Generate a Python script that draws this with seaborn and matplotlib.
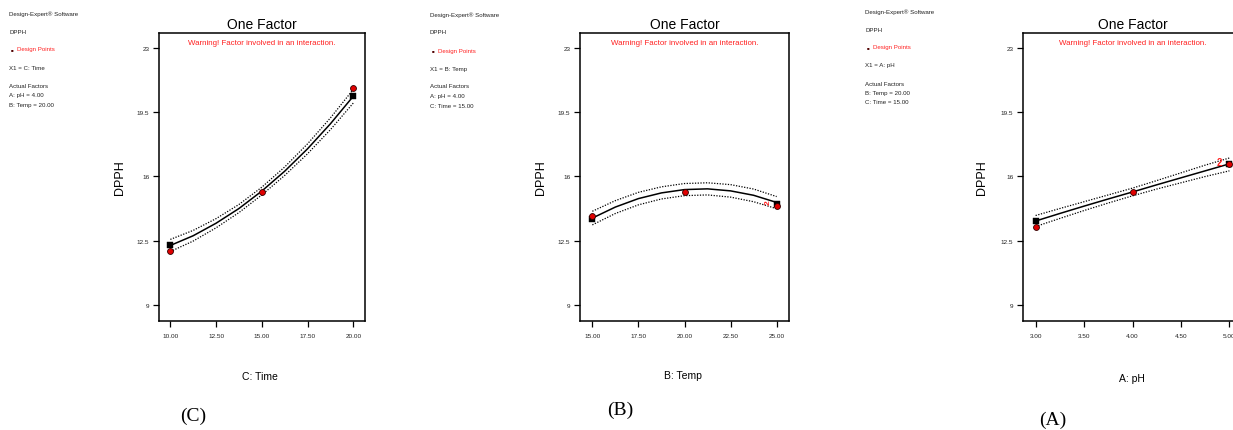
import matplotlib
matplotlib.use("Agg")
import matplotlib.pyplot as plt
import pandas as pd
import seaborn as sns

sns.set_theme(style="ticks")
plt.rcParams['font.family'] = ['Liberation Sans Narrow', 'Liberation Sans', 'DejaVu Sans']

# ---------------- data ----------------
# Panel (C): C: Time
time_x = [10.0, 11.25, 12.5, 13.75, 15.0, 16.25, 17.5, 18.75, 20.0]
time_fit = [12.24, 12.77, 13.45, 14.25, 15.20, 16.28, 17.50, 18.86, 20.36]
time_upper = [12.57, 13.06, 13.70, 14.47, 15.41, 16.51, 17.77, 19.18, 20.73]
time_lower = [11.91, 12.48, 13.20, 14.03, 14.99, 16.05, 17.23, 18.54, 19.99]
time_pts_x = [10.0, 15.0, 20.0]
time_pts_y = [11.93, 15.16, 20.80]
time_sq_x = [10.0, 20.0]
time_sq_y = [12.24, 20.36]
time_ticks = [10.0, 12.5, 15.0, 17.5, 20.0]
time_ticklabels = ["10.00", "12.50", "15.00", "17.50", "20.00"]

# Panel (B): B: Temp
temp_x = [15.0, 16.25, 17.5, 18.75, 20.0, 21.25, 22.5, 23.75, 25.0]
temp_fit = [13.73, 14.33, 14.79, 15.10, 15.28, 15.32, 15.21, 14.97, 14.58]
temp_upper = [14.10, 14.68, 15.13, 15.43, 15.61, 15.65, 15.55, 15.31, 14.90]
temp_lower = [13.36, 13.98, 14.45, 14.77, 14.95, 14.99, 14.87, 14.62, 14.24]
temp_pts_x = [15.0, 20.0, 25.0]
temp_pts_y = [13.82, 15.15, 14.41]
temp_sq_x = [15.0, 25.0]
temp_sq_y = [13.70, 14.49]
temp_ticks = [15.0, 17.5, 20.0, 22.5, 25.0]
temp_ticklabels = ["15.00", "17.50", "20.00", "22.50", "25.00"]

# Panel (A): A: pH
ph_x = [3.0, 3.25, 3.5, 3.75, 4.0, 4.25, 4.5, 4.75, 5.0]
ph_fit = [13.57, 13.98, 14.38, 14.77, 15.15, 15.54, 15.92, 16.30, 16.68]
ph_upper = [13.87, 14.25, 14.62, 14.99, 15.36, 15.77, 16.19, 16.61, 17.00]
ph_lower = [13.27, 13.71, 14.14, 14.55, 14.94, 15.31, 15.65, 15.99, 16.30]
ph_pts_x = [3.0, 4.0, 5.0]
ph_pts_y = [13.22, 15.17, 16.66]
ph_sq_x = [3.0, 5.0]
ph_sq_y = [13.57, 16.68]
ph_ticks = [3.0, 3.5, 4.0, 4.5, 5.0]
ph_ticklabels = ["3.00", "3.50", "4.00", "4.50", "5.00"]

y_ticks = [9, 12.5, 16, 19.5, 23]
y_ticklabels = ["9", "12.5", "16", "19.5", "23"]

# ---------------- figure ----------------
W, H = 1233, 431
fig = plt.figure(figsize=(W / 100, H / 100), dpi=100)
fig.patch.set_facecolor("white")


def px(x, y):
    return x / W, 1 - y / H


def panel(left, right, top, bottom, x, fit, up, lo, ptx, pty, sqx, sqy,
          xlim, ticks, ticklabels, xlabel, xl_pos, letter, letter_pos,
          ylab_x, side_x, side_y0, side_lines, two=None):
    ax = fig.add_axes([left / W, 1 - bottom / H, (right - left) / W, (bottom - top) / H])
    df = pd.DataFrame({"x": x, "fit": fit, "up": up, "lo": lo})
    sns.lineplot(data=df, x="x", y="up", ax=ax, color="black", lw=0.9, linestyle=(0, (1, 1.2)))
    sns.lineplot(data=df, x="x", y="lo", ax=ax, color="black", lw=0.9, linestyle=(0, (1, 1.2)))
    sns.lineplot(data=df, x="x", y="fit", ax=ax, color="black", lw=1.1)
    sq = pd.DataFrame({"x": sqx, "y": sqy})
    sns.scatterplot(data=sq, x="x", y="y", ax=ax, marker="s", s=20, color="black",
                    edgecolor="black", linewidth=0.3, zorder=4)
    pts = pd.DataFrame({"x": ptx, "y": pty})
    sns.scatterplot(data=pts, x="x", y="y", ax=ax, marker="o", s=18, color="#e00000",
                    edgecolor="#300000", linewidth=0.6, zorder=5)
    ax.set_xlim(*xlim)
    ax.set_ylim(8.13, 23.8)
    ax.set_xticks(ticks)
    ax.set_xticklabels(ticklabels)
    ax.set_yticks(y_ticks)
    ax.set_yticklabels(y_ticklabels)
    ax.tick_params(axis="both", direction="out", length=4.5, width=0.9, color="black",
                   labelsize=4.6, pad=2.5, labelcolor="#222222")
    ax.tick_params(axis="x", pad=4)
    for s in ax.spines.values():
        s.set_visible(True)
        s.set_color("black")
        s.set_linewidth(1.1)
    ax.set_xlabel("")
    ax.set_ylabel("")
    ax.set_facecolor("white")
    cx = (left + right) / 2
    if two is not None:
        ax.text(two[0], two[1], "2", color="#ff2020", fontsize=two[2], fontweight="bold",
                rotation=two[3], ha="center", va="center", zorder=6)
    # titles and labels
    fig.text(*px(cx, 25), "One Factor", fontsize=10, ha="center", va="center",
             color="black")
    fig.text(*px(cx, 44), "Warning! Factor involved in an interaction.", fontsize=5.7,
             ha="center", va="center", color="#ff2020")
    fig.text(*px(ylab_x, 178), "DPPH", fontsize=9, rotation=90, ha="center", va="center",
             color="black", family=["Liberation Sans", "DejaVu Sans"])
    fig.text(*px(*xl_pos), xlabel, fontsize=7.5, ha="center", va="center", color="black")
    fig.text(*px(*letter_pos), letter, fontsize=14, ha="center", va="center",
             color="black", family=["Liberation Serif", "DejaVu Serif"])
    # side info block
    ys = side_y0
    for (dy, txt, red) in side_lines:
        yy = ys + dy
        if red:
            fig.text(*px(side_x + 3, yy), "\u25A0", fontsize=3.2, ha="center", va="center",
                     color="#500000")
            fig.text(*px(side_x + 8, yy), txt, fontsize=4.4, ha="left", va="center",
                     color="#ff2020")
        else:
            fig.text(*px(side_x, yy), txt, fontsize=4.4, ha="left", va="center", color="#222222")
    return ax


def side(x1, f1, f2):
    return [(0, "Design-Expert\u00AE Software", False),
            (18, "DPPH", False),
            (36, "Design Points", True),
            (54, x1, False),
            (72, "Actual Factors", False),
            (82, f1, False),
            (91, f2, False)]


panel(159, 365, 34, 322, time_x, time_fit, time_upper, time_lower,
      time_pts_x, time_pts_y, time_sq_x, time_sq_y,
      (9.38, 20.64), time_ticks, time_ticklabels, "C: Time", (260, 377),
      "(C)", (193, 416), 120, 9, 14,
      side("X1 = C: Time", "A: pH = 4.00", "B: Temp = 20.00"))

panel(580, 789, 34, 322, temp_x, temp_fit, temp_upper, temp_lower,
      temp_pts_x, temp_pts_y, temp_sq_x, temp_sq_y,
      (14.33, 25.67), temp_ticks, temp_ticklabels, "B: Temp", (683, 376),
      "(B)", (620, 410), 541, 430, 15,
      side("X1 = B: Temp", "A: pH = 4.00", "C: Time = 15.00"),
      two=(24.55, 14.62, 6, 90))

panel(1023, 1242, 34, 322, ph_x, ph_fit, ph_upper, ph_lower,
      ph_pts_x, ph_pts_y, ph_sq_x, ph_sq_y,
      (2.87, 5.13), ph_ticks, ph_ticklabels, "A: pH", (1132, 379),
      "(A)", (1053, 420), 982, 865, 12,
      side("X1 = A: pH", "B: Temp = 20.00", "C: Time = 15.00"),
      two=(4.9, 16.8, 7, 0))

fig.savefig("out.png", dpi=100, facecolor="white")
